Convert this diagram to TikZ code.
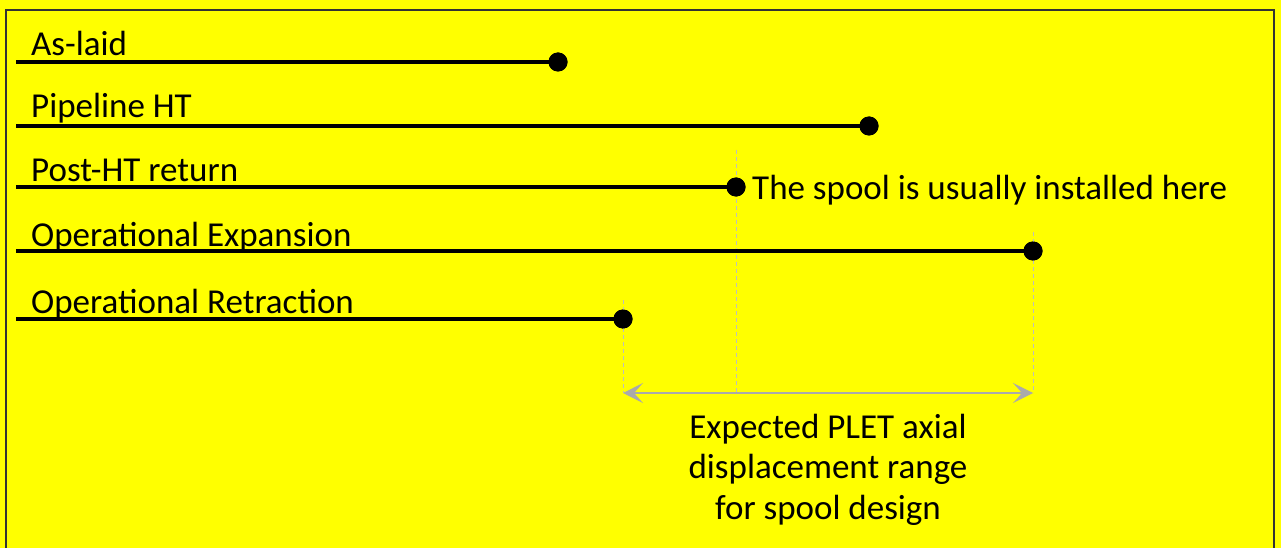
\documentclass[tikz,border=0pt]{standalone}
\usepackage{fontspec}
\setmainfont{Carlito}
\usetikzlibrary{arrows.meta}
\definecolor{bgyellow}{RGB}{255,255,0}
\definecolor{guidegray}{RGB}{190,190,190}
\definecolor{arrgray}{RGB}{170,170,170}
\begin{document}
\begin{tikzpicture}[x=1pt,y=-1pt,
  stage/.style={line width=3.5pt,black},
  enddot/.style={circle,fill=black,inner sep=0pt,minimum size=19pt},
  lbl/.style={anchor=base west,inner sep=0pt,font=\fontsize{35}{41}\selectfont},
  ctr/.style={anchor=base,inner sep=0pt,font=\fontsize{35}{41}\selectfont},
  guide/.style={guidegray,line width=1pt,dash pattern=on 4pt off 3pt},
  rangearrow/.style={arrgray,line width=1.5pt,{Stealth[length=20pt,width=20pt,inset=9pt]}-{Stealth[length=20pt,width=20pt,inset=9pt]}}]
\useasboundingbox (0,0) rectangle (1281,548);
\fill[bgyellow] (0,0) rectangle (1281,548);
\draw[line width=2pt,black!80] (6,560) -- (6,10) -- (1274,10) -- (1274,560);
% start coordinates
\coordinate (s1) at (16,62);
\coordinate (s2) at (16,126);
\coordinate (s3) at (16,187);
\coordinate (s4) at (16,251);
\coordinate (s5) at (16,319);
% dots
\node[enddot] (d1) at (558,62) {};
\node[enddot] (d2) at (869,126) {};
\node[enddot] (d3) at (736,187) {};
\node[enddot] (d4) at (1033,251) {};
\node[enddot] (d5) at (623,319) {};
% guide lines
\coordinate (g3t) at (736,150);
\coordinate (g4t) at (1033,232);
\coordinate (g5t) at (623,300);
\coordinate (a5) at (623,393);
\coordinate (a4) at (1033,393);
\coordinate (a3) at (736,393);
\draw[guide] (g5t) -- (a5);
\draw[guide] (g3t) -- (a3);
\draw[guide] (g4t) -- (a4);
% stage lines
\draw[stage] (s1) -- (d1.center);
\draw[stage] (s2) -- (d2.center);
\draw[stage] (s3) -- (d3.center);
\draw[stage] (s4) -- (d4.center);
\draw[stage] (s5) -- (d5.center);
\node[enddot] at (d1) {};
\node[enddot] at (d2) {};
\node[enddot] at (d3) {};
\node[enddot] at (d4) {};
\node[enddot] at (d5) {};
% labels
\node[lbl] (l1) at (31,56) {As-laid};
\node[lbl] (l2) at (31,118) {Pipeline HT};
\node[lbl] (l3) at (31,182) {Post-HT return};
\node[lbl] (l4) at (31,246) {Operational Expansion};
\node[lbl] (l5) at (31,313) {Operational Retraction};
\node[lbl] (spool) at (752,199) {The spool is usually installed here};
% range arrow
\draw[rangearrow] (a5) -- (a4);
\node[ctr] (rng1) at (828,438) {Expected PLET axial};
\node[ctr] (rng2) at (828,478) {displacement range};
\node[ctr] (rng3) at (828,519) {for spool design};
\end{tikzpicture}
\end{document}
